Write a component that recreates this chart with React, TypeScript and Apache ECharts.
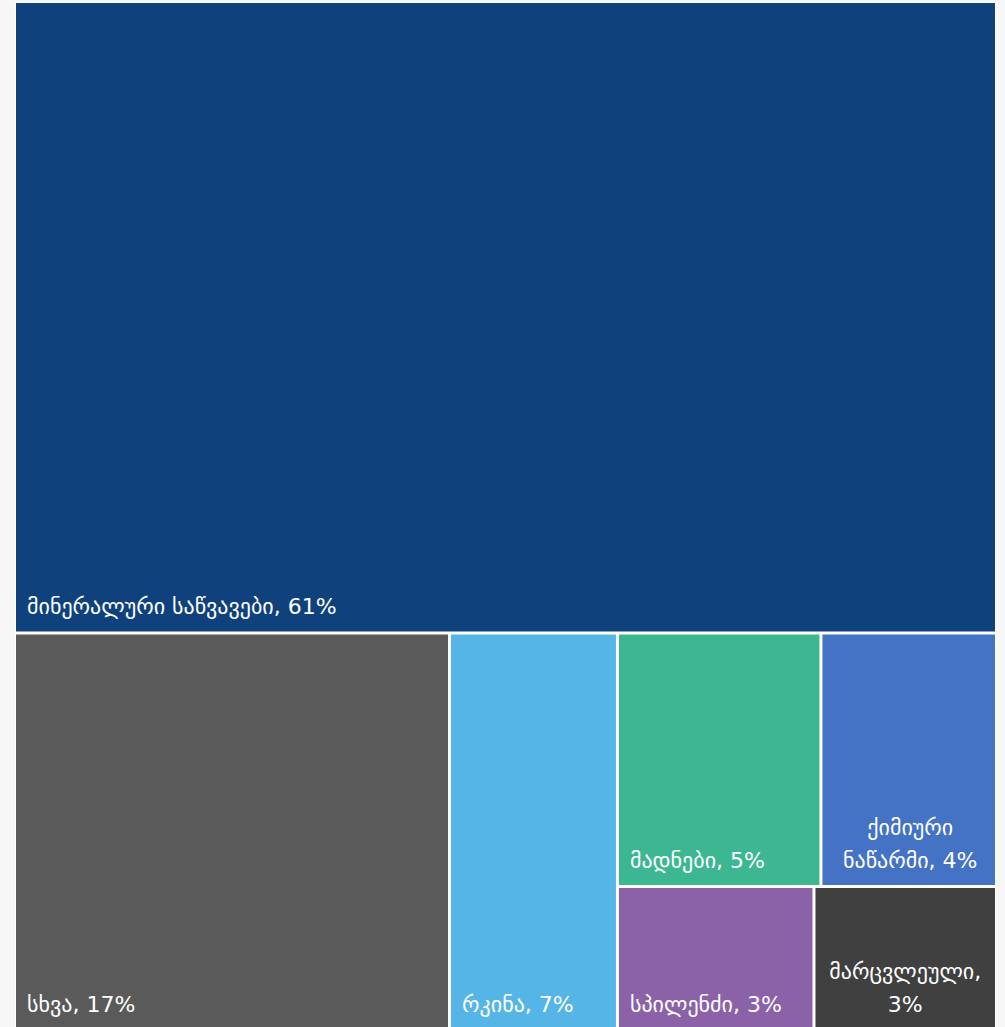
import React, { useEffect, useRef } from "react";
import * as echarts from "echarts";

// Export structure (share of total, %)
const categories = [
  "მინერალური საწვავები",
  "სხვა",
  "რკინა",
  "მადნები",
  "ქიმიური ნაწარმი",
  "სპილენძი",
  "მარცვლეული",
];
const shares = [61.3, 17.1, 6.6, 5.1, 4.4, 2.8, 2.6];
const colors = ["#0F427C", "#5A5A5A", "#55B5E6", "#3DB792", "#4472C4", "#8B62A8", "#404040"];

export default function App() {
  const ref = useRef<HTMLDivElement>(null);
  useEffect(() => {
    document.body.style.margin = "0";
    document.body.style.background = "#f7f7f7";
    const chart = echarts.init(ref.current!, null, { renderer: "svg" });
    const data = categories.map((name, i) => {
      const item: any = { name, value: shares[i], itemStyle: { color: colors[i] } };
      if (name === "ქიმიური ნაწარმი") {
        item.label = {
          position: "insideBottom",
          align: "center",
          formatter: (p: any) => `${p.name.replace(" ", "\n")}, ${Math.round(p.value)}%`,
        };
      }
      if (name === "მარცვლეული") {
        item.label = {
          position: "insideBottom",
          align: "center",
          padding: [0, 13, 8, 13],
          overflow: "truncate",
          ellipsis: "...",
          formatter: (p: any) => `${p.name},\n${Math.round(p.value)}%`,
        };
      }
      return item;
    });
    chart.setOption({
      animation: false,
      backgroundColor: "#fff",
      series: [
        {
          type: "treemap",
          left: 1,
          top: 1,
          right: 1,
          bottom: 1,
          roam: false,
          nodeClick: false,
          breadcrumb: { show: false },
          squareRatio: 0.78,
          itemStyle: { borderColor: "#fff", borderWidth: 0, gapWidth: 3 },
          levels: [
            { itemStyle: { borderColor: "#fff", borderWidth: 0, gapWidth: 3 } },
            { itemStyle: { borderColor: "#fff", borderWidth: 0, gapWidth: 0 } },
          ],
          label: {
            show: true,
            position: "insideBottomLeft",
            color: "#fff",
            fontSize: 22,
            fontFamily: "DejaVu Sans",
            lineHeight: 33,
            padding: [0, 8, 8, 11],
            overflow: "none",
            formatter: (p: any) => `${p.name}, ${Math.round(p.value)}%`,
          },
          data,
        },
      ],
    });
    return () => chart.dispose();
  }, []);
  return (
    <div
      ref={ref}
      style={{ position: "absolute", left: 15, top: 2, width: 981, height: 1028 }}
    />
  );
}
